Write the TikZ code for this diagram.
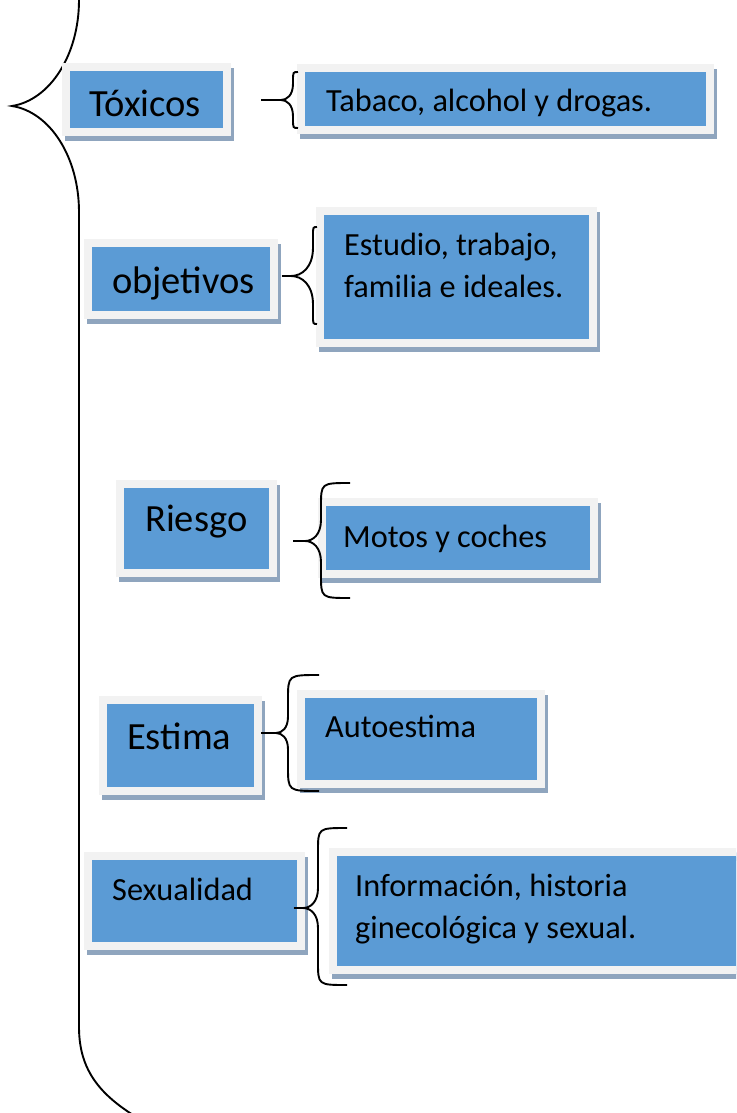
\documentclass[tikz,border=0pt]{standalone}
\usepackage{fontspec}
\setmainfont{Carlito}
\usetikzlibrary{calc}
\definecolor{boxblue}{HTML}{5B9BD5}
\definecolor{framegray}{HTML}{F2F2F2}
\definecolor{shadowblue}{HTML}{8FA5BE}

% curly brace: tip, dx to spine, up, down, end length
\newcommand{\curly}[5]{%
  \draw[brc] ($(#1)+({#2+#5},-#3)$)
    .. controls ($(#1)+(#2,-#3)$) .. ($(#1)+(#2,{-#3+0.6*#5+6})$)
    -- ($(#1)+(#2,{-1.2*#2-2})$)
    .. controls ($(#1)+(#2,{-0.4*#2})$) and ($(#1)+({0.5*#2},0)$) .. (#1)
    .. controls ($(#1)+({0.5*#2},0)$) and ($(#1)+(#2,{0.4*#2})$) .. ($(#1)+(#2,{1.2*#2+2})$)
    -- ($(#1)+(#2,{#4-0.6*#5-6})$)
    .. controls ($(#1)+(#2,#4)$) .. ($(#1)+({#2+#5},#4)$);}

\begin{document}
\begin{tikzpicture}[
        x=1pt, y=-1pt,
        box/.style={fill=boxblue, draw=framegray, line width=8pt, inner sep=0pt,
            preaction={fill=shadowblue, draw=shadowblue, transform canvas={shift={(3,5)}}}},
        big/.style={font=\fontsize{38.5}{46}\selectfont, anchor=base west, inner sep=0pt},
        small/.style={font=\fontsize{32.3}{42}\selectfont, anchor=base west, inner sep=0pt, align=left},
        brc/.style={draw=black, line width=1.9pt}
    ]
        \useasboundingbox (0,0) rectangle (736,1113);
        \clip (0,0) rectangle (736,1113);

        % big brace on the left
        \draw[brc] (79,-30) -- (79,0) .. controls (79,55) and (50,100) .. (12,106)
            .. controls (50,112) and (79,157) .. (79,212) -- (79,1027)
            .. controls (79,1075) and (105,1100) .. (150,1125);

        % left boxes
        \node[box, minimum width=161, minimum height=65] (toxicos) at (146.5,99.5) {};
        \node[box, minimum width=186, minimum height=72] (objetivos) at (181,279) {};
        \node[box, minimum width=153, minimum height=89] (riesgo) at (196.5,528.5) {};
        \node[box, minimum width=155, minimum height=91] (estima) at (180.5,745.5) {};
        \node[box, minimum width=213, minimum height=90] (sexualidad) at (194.5,901) {};

        % right boxes
        \node[box, minimum width=409, minimum height=62] (tabaco) at (505.5,99) {};
        \node[box, minimum width=273, minimum height=132] (estudio) at (456.5,277) {};
        \node[box, minimum width=272, minimum height=72] (motos) at (458,538) {};
        \node[box, minimum width=240, minimum height=90] (autoestima) at (421,739) {};
        \node[box, minimum width=443, minimum height=118] (informacion) at (554.5,911) {};

        % texts
        \node[big] (ttoxicos) at (89,117) {Tóxicos};
        \node[big] (tobjetivos) at (112,293) {objetivos};
        \node[big] (triesgo) at (145,531) {Riesgo};
        \node[big] (testima) at (127,749) {Estima};
        \node[small] (tsexualidad) at (112,900) {Sexualidad};
        \node[small] (ttabaco) at (326,112) {Tabaco, alcohol y drogas.};
        \node[small] (testudio) at (344,297) {Estudio, trabajo,\\familia e ideales.};
        \node[small] (tmotos) at (343,547) {Motos y coches};
        \node[small] (tautoestima) at (325,737) {Autoestima};
        \node[small] (tinformacion) at (355,938) {Información, historia\\ginecológica y sexual.};

        % brace tips
        \coordinate (tipA) at (281,100);
        \coordinate (tipB) at (291,276);
        \coordinate (tipC) at (305,541);
        \coordinate (tipD) at (276,733);
        \coordinate (tipE) at (303,908);

        \draw[brc] ($(toxicos.east |- tipA)+(30,0)$) -- (tipA);
        \draw[brc] ($(objetivos.east |- tipB)+(4,0)$) -- (tipB);
        \draw[brc] ($(riesgo.east |- tipC)+(16,0)$) -- (tipC);
        \draw[brc] ($(estima.east |- tipD)+(-1,0)$) -- (tipD);
        \draw[brc] ($(sexualidad.east |- tipE)+(-11,0)$) -- (tipE);

        \curly{tipA}{12}{28}{28}{5}
        \curly{tipB}{22}{49}{48}{4}
        \curly{tipC}{16}{58}{57}{29}
        \curly{tipD}{12}{58}{58}{31}
        \curly{tipE}{15}{80}{77}{29}
    \end{tikzpicture}
\end{document}
